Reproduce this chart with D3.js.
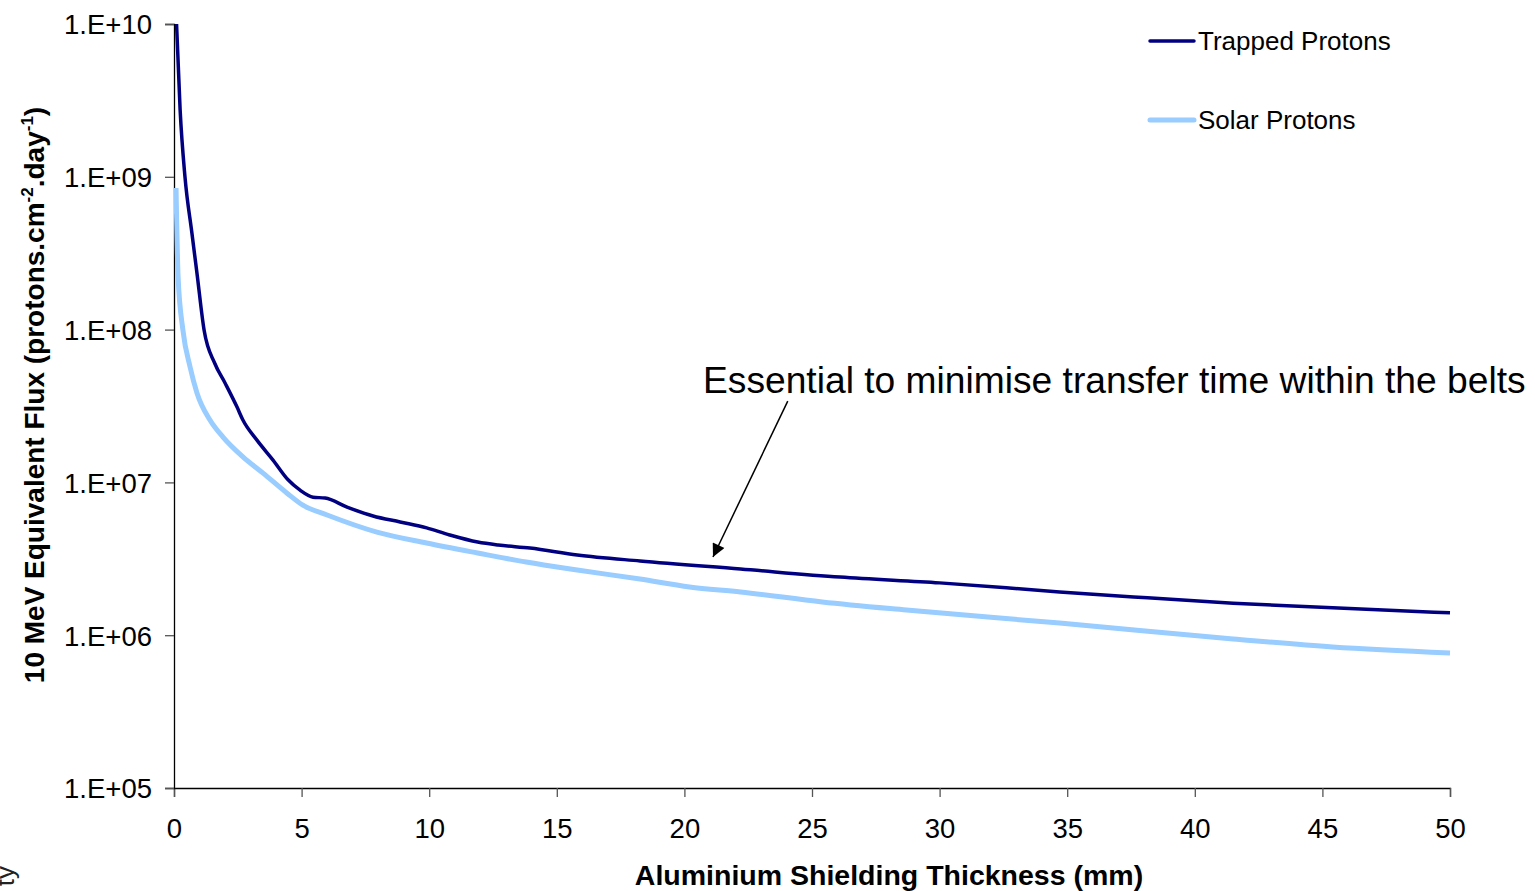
<!DOCTYPE html>
<html>
<head>
<meta charset="utf-8">
<script src="https://cdn.jsdelivr.net/npm/d3@7"></script>
<style>
  body { margin: 0; background: #fff; }
  svg { display: block; font-family: Arial, "Liberation Sans", sans-serif; }
</style>
</head>
<body>
<svg width="1535" height="891"></svg>
<script>
// Aluminium thickness (mm) and 10 MeV equivalent flux
const trappedX = [0.1, 0.24, 0.43, 0.7, 0.9, 1.18, 1.6, 2.0, 2.47, 2.7, 3.25, 3.88, 4.47, 4.94, 5.45, 5.92, 6.78, 7.8, 8.86, 9.9, 10.8, 11.9, 12.7, 13.95, 15.8, 18.26, 22.2, 26.1, 30.0, 34.7, 37.6, 41.5, 45.4, 50];
const trappedY = [1e10, 2.74e9, 1.0e9, 4.3e8, 2.34e8, 9.9e7, 6.0e7, 4.47e7, 3.11e7, 2.56e7, 1.89e7, 1.40e7, 1.04e7, 8.9e6, 8.0e6, 7.9e6, 6.9e6, 6.03e6, 5.51e6, 5.04e6, 4.53e6, 4.07e6, 3.89e6, 3.72e6, 3.35e6, 3.06e6, 2.71e6, 2.40e6, 2.20e6, 1.92e6, 1.78e6, 1.62e6, 1.51e6, 1.40e6];

const solarX = [0.08, 0.16, 0.35, 0.63, 0.9, 1.41, 1.92, 2.7, 3.49, 4.43, 5.05, 6.0, 7.95, 9.9, 11.9, 13.8, 15.8, 18.26, 20.2, 22.2, 25.4, 28.7, 34.7, 41.5, 45.4, 50];
const solarY = [8.45e8, 2.21e8, 9.9e7, 5.69e7, 3.85e7, 2.56e7, 1.98e7, 1.47e7, 1.15e7, 8.5e6, 7.1e6, 6.12e6, 4.73e6, 4.01e6, 3.45e6, 3.01e6, 2.67e6, 2.33e6, 2.07e6, 1.92e6, 1.65e6, 1.46e6, 1.20e6, 9.45e5, 8.37e5, 7.65e5];

const xTicks = [0, 5, 10, 15, 20, 25, 30, 35, 40, 45, 50];
const yTicks = [1e5, 1e6, 1e7, 1e8, 1e9, 1e10];
const seriesNames = ["Trapped Protons", "Solar Protons"];
const seriesColors = ["#000080", "#99ccff"];

const margin = { top: 24, right: 85, bottom: 103, left: 174 };
const width = 1535 - margin.left - margin.right;
const height = 891 - margin.top - margin.bottom;

const root = d3.select("svg");

// faint slide shadow + cut-off text at the bottom left
const defs = root.append("defs");
const grad = defs.append("radialGradient").attr("id", "shade").attr("cx", "50%").attr("cy", "100%").attr("r", "70%");
grad.append("stop").attr("offset", "0%").attr("stop-color", "#cfcfd4");
grad.append("stop").attr("offset", "100%").attr("stop-color", "#ffffff").attr("stop-opacity", 0);
root.append("ellipse").attr("cx", 250).attr("cy", 898).attr("rx", 190).attr("ry", 16).attr("fill", "url(#shade)");
root.append("text")
    .attr("transform", "translate(14,866) rotate(-90)")
    .attr("text-anchor", "end")
    .attr("font-size", 26).attr("fill", "#222")
    .text("ty");

const svg = root.append("g")
    .attr("transform", `translate(${margin.left},${margin.top})`);

const x = d3.scaleLinear().domain([0, 50]).range([0, width]);
const y = d3.scaleLog().domain([1e5, 1e10]).range([height, 0]);

// Axes
const xAxis = svg.append("g")
    .attr("transform", `translate(0,${height})`)
    .call(d3.axisBottom(x).tickValues(xTicks).tickSize(9).tickPadding(21).tickFormat(d3.format("d")));
const yAxis = svg.append("g")
    .call(d3.axisLeft(y).tickValues(yTicks).tickSize(9).tickPadding(13)
        .tickFormat(d => "1.E+" + String(Math.round(Math.log10(d))).padStart(2, "0")));

[xAxis, yAxis].forEach(a => {
    a.select(".domain").attr("stroke", "#000").attr("stroke-width", 1.3);
    a.selectAll(".tick line").attr("stroke", "#555").attr("stroke-width", 1.3);
    a.selectAll(".tick text").attr("fill", "#000").attr("font-size", 27.5)
        .attr("font-family", "Arial, 'Liberation Sans', sans-serif");
});
yAxis.selectAll(".tick text").attr("dy", "0.36em");

// Lines
const line = d3.line()
    .x(d => x(d[0]))
    .y(d => y(d[1]))
    .curve(d3.curveMonotoneX);

const trapped = trappedX.map((v, i) => [v, trappedY[i]]);
const solar = solarX.map((v, i) => [v, solarY[i]]);

svg.append("path")
    .datum(solar)
    .attr("fill", "none")
    .attr("stroke", seriesColors[1])
    .attr("stroke-width", 5)
    .attr("d", line);

svg.append("path")
    .datum(trapped)
    .attr("fill", "none")
    .attr("stroke", seriesColors[0])
    .attr("stroke-width", 3.5)
    .attr("d", line);

// Legend
const legend = root.append("g").attr("transform", "translate(1150,41)");
seriesNames.forEach((name, i) => {
    const g = legend.append("g").attr("transform", `translate(0,${i * 79})`);
    g.append("line").attr("x1", 0).attr("x2", 44).attr("y1", 0).attr("y2", 0)
        .attr("stroke", seriesColors[i]).attr("stroke-width", i === 0 ? 3.5 : 5)
        .attr("stroke-linecap", "round");
    g.append("text").attr("x", 48).attr("y", 9).attr("font-size", 26).attr("fill", "#000").text(name);
});

// Annotation with arrow
defs.append("marker")
    .attr("id", "arrow").attr("viewBox", "0 0 10 10")
    .attr("refX", 10).attr("refY", 5)
    .attr("markerWidth", 15).attr("markerHeight", 13)
    .attr("markerUnits", "userSpaceOnUse")
    .attr("orient", "auto")
    .append("path").attr("d", "M0,0 L10,5 L0,10 z").attr("fill", "#000");

svg.append("line")
    .attr("x1", x(24.05)).attr("y1", y(3.4e7))
    .attr("x2", x(21.12)).attr("y2", y(3.25e6))
    .attr("stroke", "#000").attr("stroke-width", 1.5)
    .attr("marker-end", "url(#arrow)");

root.append("text")
    .attr("x", 703).attr("y", 393)
    .attr("font-size", 37.2).attr("fill", "#000")
    .text("Essential to minimise transfer time within the belts");

// Axis titles
root.append("text")
    .attr("x", 889).attr("y", 885)
    .attr("text-anchor", "middle")
    .attr("font-size", 28.5).attr("font-weight", "bold")
    .text("Aluminium Shielding Thickness (mm)");

const yTitle = root.append("text")
    .attr("transform", "translate(44,395) rotate(-90)")
    .attr("text-anchor", "middle")
    .attr("font-size", 28).attr("font-weight", "bold");
yTitle.append("tspan").text("10 MeV Equivalent Flux (protons.cm");
yTitle.append("tspan").attr("dy", -11).attr("font-size", 17).text("-2");
yTitle.append("tspan").attr("dy", 11).text(".day");
yTitle.append("tspan").attr("dy", -11).attr("font-size", 17).text("-1");
yTitle.append("tspan").attr("dy", 11).text(")");
</script>
</body>
</html>
